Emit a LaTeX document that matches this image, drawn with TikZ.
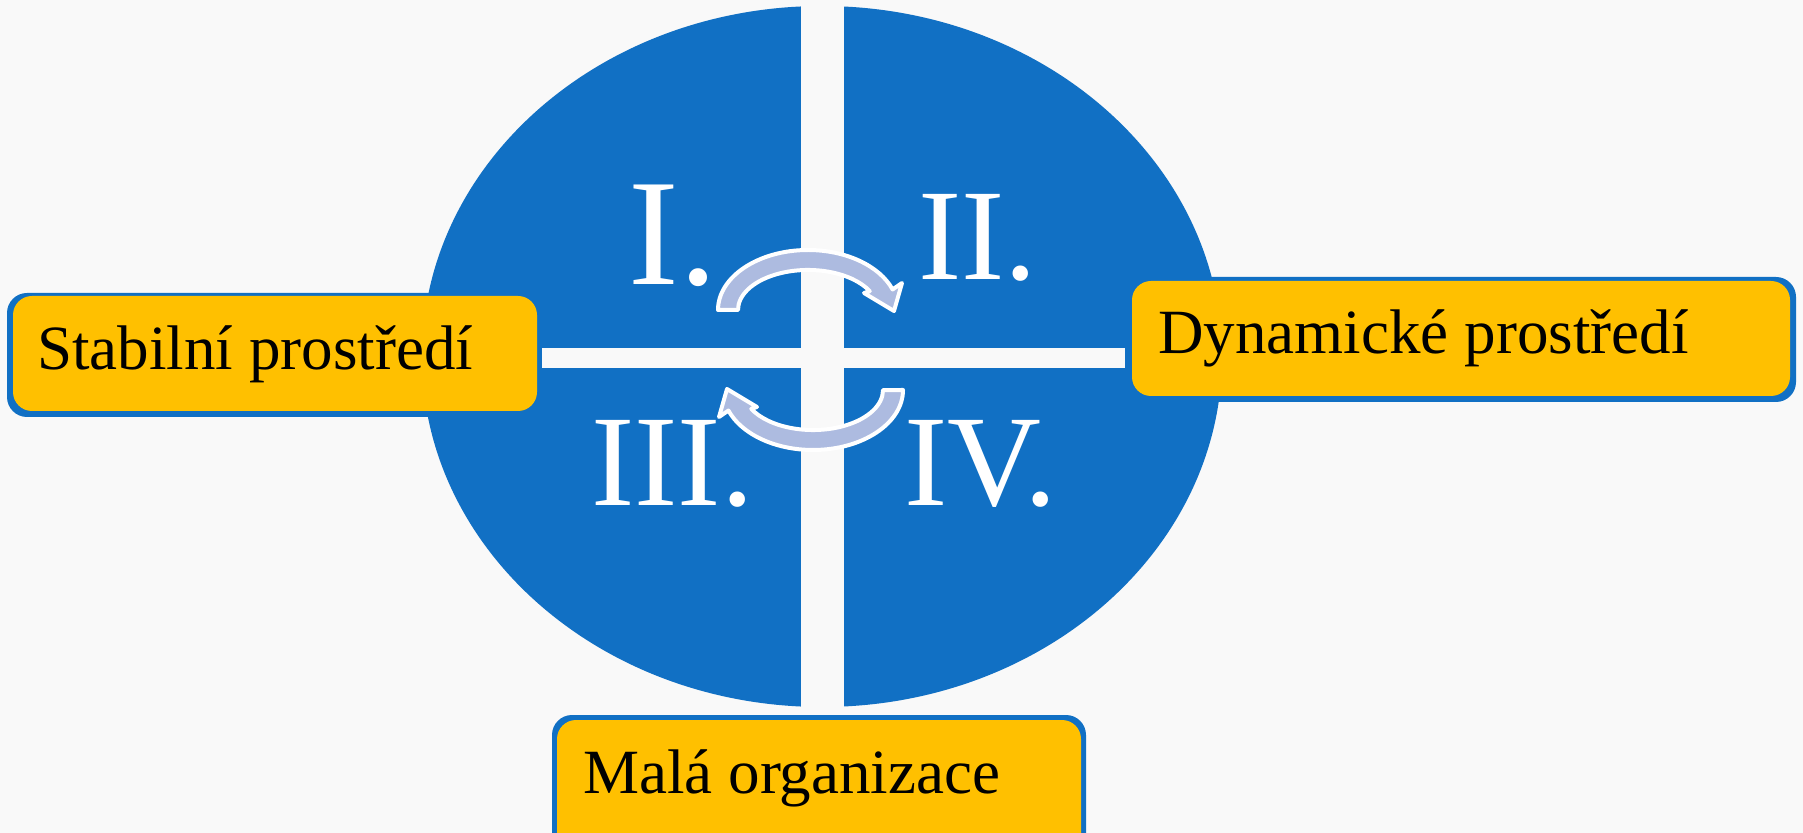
\documentclass[tikz,border=0pt]{standalone}
\usepackage{fontspec}
\setmainfont{Liberation Serif}
\definecolor{bg}{HTML}{F9F9F9}
\definecolor{qblue}{HTML}{1170C4}
\definecolor{ygold}{HTML}{FFC000}
\definecolor{lav}{HTML}{ADBBE0}
\begin{document}
\begin{tikzpicture}[x=0.5pt,y=-0.5pt,
  ybox/.style={fill=ygold, rounded corners=9.5pt, inner sep=0pt},
  bframe/.style={fill=qblue, rounded corners=10pt},
  lbl/.style={font=\fontsize{31.5}{36}\selectfont, anchor=base west, inner sep=0pt, text=black},
  num/.style={font=\fontsize{65}{70}\selectfont, anchor=base west, inner sep=0pt, text=white},
  carrow/.style={fill=lav, draw=white, line width=2pt, line join=round}]
\fill[bg] (0,0) rectangle (1803,833);
\useasboundingbox (0,0) rectangle (1803,833);
% quadrant ellipse
\fill[qblue] (822,356.5) ellipse [x radius=400, y radius=350.5];
\fill[bg] (801,0) rectangle (844,720);
\fill[bg] (542,348) rectangle (1125,368);
% numerals
\node[num, font=\fontsize{76}{80}\selectfont] (n1) at (628,285) {I.};
\node[num] (n2) at (918,280) {II.};
\node[num] (n3) at (591,506) {III.};
\node[num] (n4) at (904,506) {IV.};
% curved arrows
\path[carrow] (718,310) arc[start angle=180, end angle=340, x radius=90, y radius=60]
  -- (902,283) -- (894,311) -- (864,293) -- (869.8,291.2)
  arc[start angle=332, end angle=180, x radius=70, y radius=40] -- cycle;
\begin{scope}[rotate around={180:(810.5,350)}]
\path[carrow] (718,310) arc[start angle=180, end angle=340, x radius=90, y radius=60]
  -- (902,283) -- (894,311) -- (864,293) -- (869.8,291.2)
  arc[start angle=332, end angle=180, x radius=70, y radius=40] -- cycle;
\end{scope}
% boxes
\fill[bframe] (7,293) rectangle (537,417);
\node[ybox, minimum width=262pt, minimum height=57.5pt] (lbox) at (275,353.5) {};
\node[lbl] (ltext) at (37,370) {Stabilní prostředí};
\fill[bframe] (1132,277) rectangle (1796,402);
\node[ybox, minimum width=329pt, minimum height=57.5pt] (rbox) at (1461,338.5) {};
\node[lbl] (rtext) at (1158,354) {Dynamické prostředí};
\fill[bframe] (552,715) rectangle (1086,860);
\node[ybox, minimum width=262pt, minimum height=70pt] (bbox) at (819,790) {};
\node[lbl] (btext) at (583,793) {Malá organizace};
\end{tikzpicture}
\end{document}
